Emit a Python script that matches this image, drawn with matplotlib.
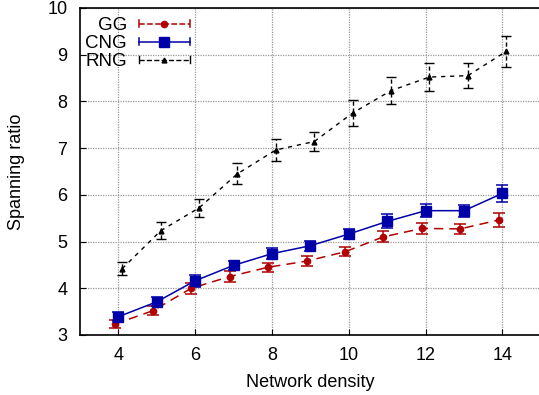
import matplotlib
matplotlib.use("Agg")
import matplotlib.pyplot as plt
from matplotlib.legend_handler import HandlerBase
from matplotlib.lines import Line2D
import numpy as np

plt.rcParams['font.family'] = ['Liberation Sans', 'DejaVu Sans']

density = [4, 5, 6, 7, 8, 9, 10, 11, 12, 13, 14]
gg = [3.23, 3.52, 4.00, 4.25, 4.45, 4.58, 4.78, 5.10, 5.28, 5.27, 5.46]
gg_err = [0.08, 0.10, 0.12, 0.12, 0.10, 0.10, 0.10, 0.12, 0.11, 0.10, 0.16]
cng = [3.39, 3.71, 4.16, 4.49, 4.74, 4.91, 5.16, 5.43, 5.66, 5.66, 6.03]
cng_err = [0.10, 0.10, 0.13, 0.10, 0.12, 0.11, 0.10, 0.15, 0.14, 0.13, 0.18]
rng = [4.42, 5.23, 5.72, 6.45, 6.96, 7.14, 7.75, 8.23, 8.52, 8.55, 9.07]
rng_err = [0.14, 0.18, 0.20, 0.22, 0.24, 0.21, 0.28, 0.29, 0.30, 0.27, 0.33]
labels = ['GG', 'CNG', 'RNG']

x = np.array(density, dtype=float)

fig = plt.figure(figsize=(5.39, 3.95), dpi=100)
ax = fig.add_axes([0.1484, 0.152, 0.855, 0.828])

red = '#b00000'
blue = '#0000a8'

styles = [
    dict(color=red, marker='o', ms=4.5, ls=(0, (6, 4)), lw=1.1, cap=4, off=-0.1),
    dict(color=blue, marker='s', ms=6.5, ls='-', lw=1.1, cap=4, off=0.0),
    dict(color='black', marker='^', ms=3.5, ls=(0, (3, 3.5)), lw=1.0, cap=3.5, off=0.1),
]
data = [(gg, gg_err), (cng, cng_err), (rng, rng_err)]

handles = []
for (yv, ye), st, lab in zip(data, styles, labels):
    e = ax.errorbar(x + st['off'], yv, yerr=ye, color=st['color'], marker=st['marker'],
                    markersize=st['ms'], linestyle=st['ls'], linewidth=st['lw'],
                    capsize=st['cap'], elinewidth=st['lw'], capthick=st['lw'],
                    label=lab, zorder=3)
    if lab == 'RNG':
        e[2][0].set_linestyle((0, (3, 2)))
    h = Line2D([], [], color=st['color'], marker=st['marker'], markersize=st['ms'],
               linestyle=st['ls'], linewidth=st['lw'])
    handles.append(h)


class CapLineHandler(HandlerBase):
    def create_artists(self, legend, orig, xdescent, ydescent, width, height, fontsize, trans):
        y = height / 2.0 - ydescent
        x0 = -xdescent
        x1 = -xdescent + width
        c = orig.get_color()
        lw = orig.get_linewidth()
        line = Line2D([x0, x1], [y, y], color=c, linewidth=lw)
        line.set_linestyle(orig.get_linestyle())
        mk = Line2D([(x0 + x1) / 2], [y], color=c, marker=orig.get_marker(),
                    markersize=orig.get_markersize(), linestyle='none')
        capl = Line2D([x0, x0], [y - 2.5, y + 2.5], color=c, linewidth=lw)
        capr = Line2D([x1, x1], [y - 2.5, y + 2.5], color=c, linewidth=lw)
        arts = [line, mk, capl, capr]
        for a in arts:
            a.set_transform(trans)
        return arts


for h, st in zip(handles, styles):
    h.set_linestyle(st['ls'])

ax.set_xlim(3, 15)
ax.set_ylim(3, 10)
ax.set_xticks([4, 6, 8, 10, 12, 14])
ax.set_yticks([3, 4, 5, 6, 7, 8, 9, 10])
ax.tick_params(axis='both', labelsize=13, direction='in', length=4)
ax.tick_params(axis='x', pad=9)
ax.tick_params(axis='y', pad=9)
ax.grid(True, color='#999999', linestyle=(0, (1, 1)), linewidth=0.9)
ax.set_axisbelow(True)
for s in ax.spines.values():
    s.set_linewidth(1.2)

ax.set_xlabel('Network density', fontsize=13, labelpad=7)
ax.set_ylabel('Spanning ratio', fontsize=13, labelpad=16)

leg = ax.legend(handles, labels, loc='upper left', markerfirst=False, frameon=False,
                fontsize=13.5, handlelength=2.7, borderaxespad=0.0, labelspacing=0.05,
                handletextpad=0.65, bbox_to_anchor=(-0.005, 0.995),
                handler_map={h: CapLineHandler() for h in handles})
for t in leg.get_texts():
    t.set_ha('right')

fig.savefig('out.png', dpi=100)
